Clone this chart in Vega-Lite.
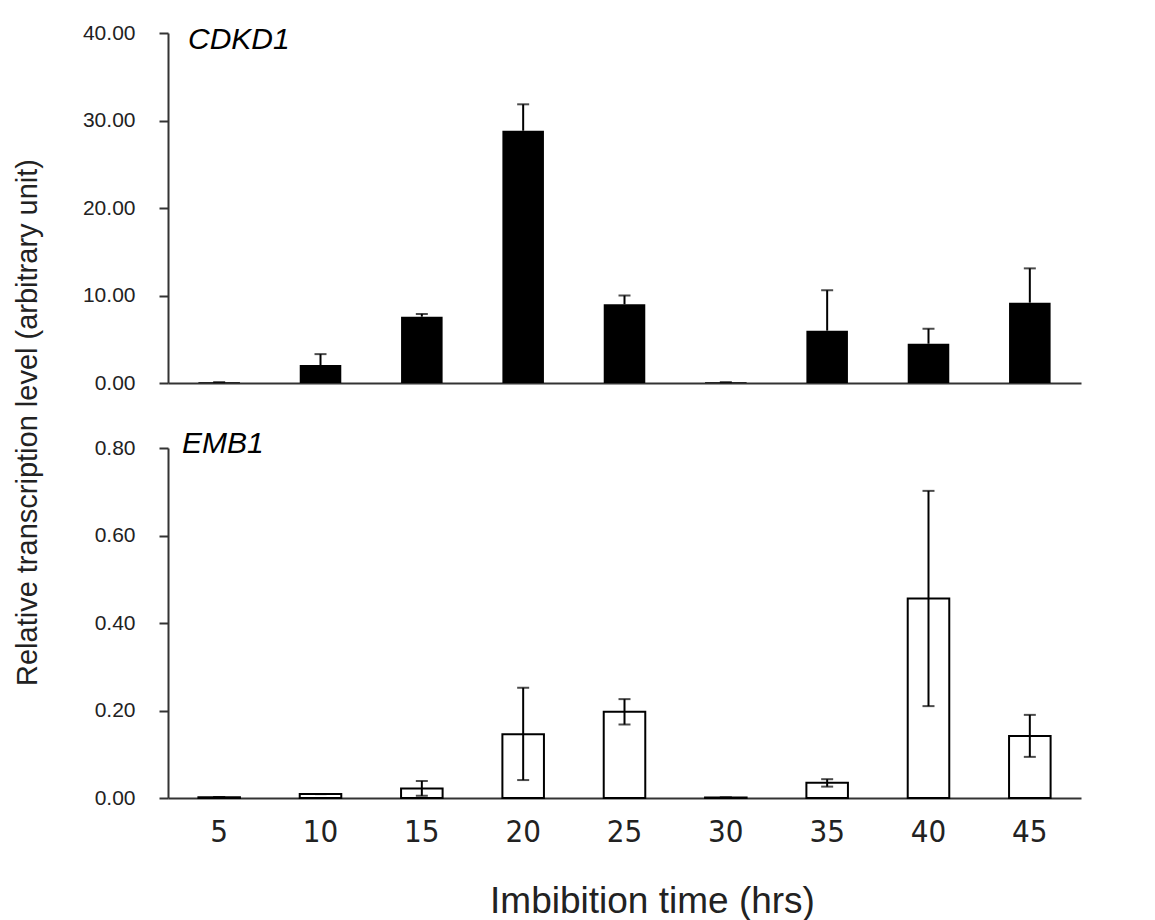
{
  "$schema": "https://vega.github.io/schema/vega-lite/v6.json",
  "background": "white",
  "padding": {"left": 13, "top": 22, "right": 10, "bottom": 5},
  "datasets": {
    "cdkd1": [
      {"time": 5, "value": 0.1, "hi": 0.1},
      {"time": 10, "value": 2.06, "hi": 3.3},
      {"time": 15, "value": 7.58, "hi": 7.9},
      {"time": 20, "value": 28.83, "hi": 31.85},
      {"time": 25, "value": 8.99, "hi": 10.0},
      {"time": 30, "value": 0.1, "hi": 0.1},
      {"time": 35, "value": 5.98, "hi": 10.6},
      {"time": 40, "value": 4.49, "hi": 6.2},
      {"time": 45, "value": 9.18, "hi": 13.1}
    ],
    "emb1": [
      {"time": 5, "value": 0.002, "lo": 0.002, "hi": 0.002},
      {"time": 10, "value": 0.009, "lo": 0.009, "hi": 0.009},
      {"time": 15, "value": 0.022, "lo": 0.005, "hi": 0.039},
      {"time": 20, "value": 0.146, "lo": 0.041, "hi": 0.252},
      {"time": 25, "value": 0.197, "lo": 0.168, "hi": 0.226},
      {"time": 30, "value": 0.001, "lo": 0.001, "hi": 0.001},
      {"time": 35, "value": 0.035, "lo": 0.026, "hi": 0.043},
      {"time": 40, "value": 0.456, "lo": 0.21, "hi": 0.702},
      {"time": 45, "value": 0.142, "lo": 0.094, "hi": 0.19}
    ]
  },
  "config": {
    "view": {"stroke": null},
    "axis": {
      "labelFont": "Liberation Sans",
      "labelFontSize": 21,
      "labelColor": "#222",
      "titleFont": "Liberation Sans",
      "titleFontWeight": "normal",
      "titleColor": "#222",
      "domainColor": "#333",
      "domainWidth": 2,
      "tickColor": "#333",
      "tickWidth": 2,
      "grid": false
    }
  },
  "vconcat": [
    {
      "width": 913,
      "height": 350,
      "data": {"name": "cdkd1"},
      "title": {"text": "CDKD1", "anchor": "start", "frame": "group", "offset": -33, "dx": 20, "font": "Liberation Sans", "fontStyle": "italic", "fontSize": 30, "fontWeight": "normal", "color": "black"},
      "encoding": {
        "x": {"field": "time", "type": "ordinal", "sort": null,
          "scale": {"paddingInner": 0.59, "paddingOuter": 0.3},
          "axis": {"title": null, "labels": false, "ticks": false}}
      },
      "layer": [
        {"mark": {"type": "bar", "color": "black"},
         "encoding": {"y": {"field": "value", "type": "quantitative",
           "scale": {"domain": [0, 40]},
           "axis": {"values": [0, 10, 20, 30, 40], "format": ".2f", "tickSize": 9, "labelPadding": 24,
             "title": "Relative transcription level (arbitrary unit)", "titleFontSize": 29,
             "titleX": -141, "titleY": 389, "titleAngle": -90, "titleAlign": "center", "titleBaseline": "middle"}}}},
        {"mark": {"type": "rule", "color": "black", "strokeWidth": 2},
         "encoding": {"y": {"field": "value", "type": "quantitative"}, "y2": {"field": "hi"}}},
        {"mark": {"type": "tick", "color": "black", "size": 12, "thickness": 2},
         "encoding": {"y": {"field": "hi", "type": "quantitative"}}}
      ]
    },
    {
      "width": 913,
      "height": 350,
      "data": {"name": "emb1"},
      "title": {"text": "EMB1", "anchor": "start", "frame": "group", "offset": -22, "dx": 14, "font": "Liberation Sans", "fontStyle": "italic", "fontSize": 30, "fontWeight": "normal", "color": "black"},
      "encoding": {
        "x": {"field": "time", "type": "ordinal", "sort": null,
          "scale": {"paddingInner": 0.59, "paddingOuter": 0.3},
          "axis": {"title": "Imbibition time (hrs)", "labelAngle": 0, "ticks": false, "labelPadding": 19,
            "labelFont": "DejaVu Sans Condensed", "labelFontSize": 31,
            "titleFontSize": 37, "titleX": 484, "titleY": 114, "titleAlign": "center", "titleBaseline": "alphabetic"}}
      },
      "layer": [
        {"mark": {"type": "bar", "fill": "white", "stroke": "black", "strokeWidth": 2},
         "encoding": {"y": {"field": "value", "type": "quantitative",
           "scale": {"domain": [0, 0.8]},
           "axis": {"values": [0, 0.2, 0.4, 0.6, 0.8], "format": ".2f", "tickSize": 9, "labelPadding": 24, "title": null}}}},
        {"mark": {"type": "rule", "color": "black", "strokeWidth": 2},
         "encoding": {"y": {"field": "lo", "type": "quantitative"}, "y2": {"field": "hi"}}},
        {"mark": {"type": "tick", "color": "black", "size": 12, "thickness": 2},
         "encoding": {"y": {"field": "hi", "type": "quantitative"}}},
        {"mark": {"type": "tick", "color": "black", "size": 12, "thickness": 2},
         "encoding": {"y": {"field": "lo", "type": "quantitative"}}}
      ]
    }
  ],
  "spacing": 65,
  "bounds": "flush"
}
